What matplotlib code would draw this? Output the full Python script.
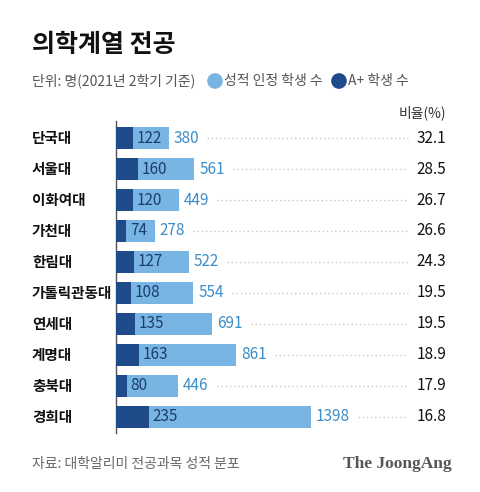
# 의학계열 전공: 성적 인정 학생 수 vs A+ 학생 수
import matplotlib.pyplot as plt
import matplotlib.transforms as mtransforms

plt.rcParams["font.family"] = ["Noto Sans CJK KR", "DejaVu Sans"]

# Data
schools = ["단국대", "서울대", "이화여대", "가천대", "한림대",
           "가톨릭관동대", "연세대", "계명대", "충북대", "경희대"]
total = [380, 561, 449, 278, 522, 554, 691, 861, 446, 1398]
aplus = [122, 160, 120, 74, 127, 108, 135, 163, 80, 235]
ratio = [32.1, 28.5, 26.7, 26.6, 24.3, 19.5, 19.5, 18.9, 17.9, 16.8]

title = "의학계열 전공"
unit_text = "단위: 명(2021년 2학기 기준)"
legend_labels = ["성적 인정 학생 수", "A+ 학생 수"]
ratio_header = "비율(%)"
source = "자료: 대학알리미 전공과목 성적 분포"
brand = "The JoongAng"

light = "#79b5e3"
dark = "#1f4b8b"
light_txt = "#3b8dc8"
dark_txt = "#1d3d70"

W, H = 480, 492
fig = plt.figure(figsize=(W / 100, H / 100), dpi=100)
fig.patch.set_facecolor("white")

# overlay axes in pixel coordinates for headers and legend
bg = fig.add_axes([0, 0, 1, 1])
bg.set_xlim(0, W)
bg.set_ylim(H, 0)
bg.axis("off")

# main bar axes
left, right, top, bottom = 116, 446, 121, 433
ax = fig.add_axes([left / W, 1 - bottom / H, (right - left) / W, (bottom - top) / H])
scale = 0.1395  # px per student
ax.set_xlim(0, (right - left) / scale)
n = len(schools)
ax.set_ylim(n - 0.5 + 0.02, -0.55)
for s in ["top", "right", "bottom"]:
    ax.spines[s].set_visible(False)
ax.spines["left"].set_color("#555555")
ax.spines["left"].set_linewidth(1)
ax.set_xticks([])
ax.set_yticks([])
ax.patch.set_alpha(0)

ypos = list(range(n))
ax.barh(ypos, total, height=0.7, color=light, zorder=2)
ax.barh(ypos, aplus, height=0.7, color=dark, zorder=3)

fig_y = mtransforms.blended_transform_factory(fig.transFigure, ax.transData)
axes_y = mtransforms.blended_transform_factory(ax.transAxes, ax.transData)

light_labels = []
for i in range(n):
    ax.text(32 / W, i, schools[i], transform=fig_y, ha="left", va="center",
            fontsize=10.5, fontweight="bold", color="#111111")
    ax.annotate(str(aplus[i]), (aplus[i], i), xytext=(2.5, 0), textcoords="offset points",
                ha="left", va="center", fontsize=11, color=dark_txt, zorder=4)
    t = ax.annotate(str(total[i]), (total[i], i), xytext=(3.5, 0), textcoords="offset points",
                    ha="left", va="center", fontsize=11, color=light_txt, zorder=4)
    light_labels.append(t)
    ax.text(1.0, i, f"{ratio[i]:.1f}", transform=axes_y, ha="right", va="center",
            fontsize=11, color="#111111")

# dotted guide lines from the value label to the ratio column
fig.canvas.draw()
renderer = fig.canvas.get_renderer()
inv = ax.transData.inverted()
end_x = inv.transform((408 / W * fig.bbox.width, 0))[0]
for i, t in enumerate(light_labels):
    bb = t.get_window_extent(renderer)
    x0 = inv.transform((bb.x1 + 8, 0))[0]
    ax.plot([x0, end_x], [i, i], linestyle=(0, (1, 2)), color="#c8c8c8",
            linewidth=1, zorder=1)

# headers
bg.text(32, 45, title, ha="left", va="center", fontsize=18, fontweight="heavy",
        color="#111111")
bg.text(32, 81, unit_text, ha="left", va="center", fontsize=10, color="#555555")
bg.scatter([215, 339], [81, 81], s=105, color=[light, dark], zorder=3)
bg.text(224, 81, legend_labels[0], ha="left", va="center", fontsize=10, color="#555555")
bg.text(348, 81, legend_labels[1], ha="left", va="center", fontsize=10, color="#555555")
bg.text(446, 113, ratio_header, ha="right", va="center", fontsize=10, color="#333333")

# footer
bg.text(32, 464, source, ha="left", va="center", fontsize=10, color="#666666")
bg.text(452, 464, brand, ha="right", va="center", fontsize=12.5, fontweight="bold",
        family="Liberation Serif", color="#555555")

fig.savefig("out.png", dpi=100)
